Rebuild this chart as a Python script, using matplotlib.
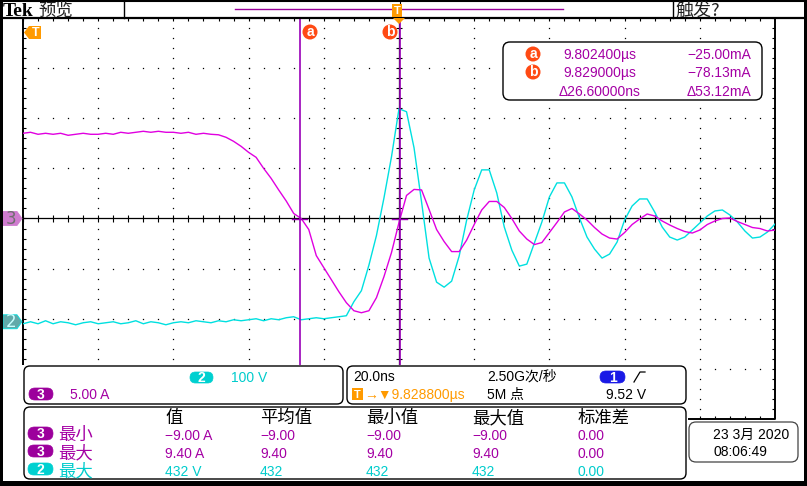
import numpy as np
import matplotlib
matplotlib.use('Agg')
import matplotlib.pyplot as plt
from matplotlib.patches import FancyBboxPatch, Rectangle, Polygon, Circle

TIME_PER_DIV_NS = 20.0
CH3_A_PER_DIV = 5.0
CH2_V_PER_DIV = 100.0
CH2_POSITION_DIV = -2.06
TRIGGER_POS_US = 9.8288

time_ns = np.arange(-100, 101, 2)          # sample grid, ns relative to trigger

ch3_current_A = [
    8.5, 8.6, 8.4, 8.5, 8.4, 8.5, 8.3, 8.4, 8.5, 8.4,
    8.4, 8.5, 8.4, 8.6, 8.5, 8.6, 8.7, 8.6, 8.7, 8.6,
    8.6, 8.5, 8.6, 8.4, 8.5, 8.4,
    8.35, 8.1, 7.7, 7.2, 6.6, 6.1, 5.0, 4.0, 2.85, 1.75,
    0.5, 0.0, -1.1, -3.7, -4.9, -6.1, -7.3, -8.4, -9.2, -9.4,
    -9.2, -7.9, -5.8, -3.4, -0.4,
    2.3, 2.9, 2.85, 0.9, -1.1, -2.3, -3.3, -3.3, -2.15, -0.6,
    0.85, 1.7, 1.7, 1.1, 0.0, -1.25, -2.05, -2.6, -2.4, -1.4,
    -0.4, 0.65, 1.0, 0.45, -0.15, -0.9, -1.55, -1.95, -2.05, -1.4,
    -0.6, -0.05, 0.45, 0.25, -0.25, -0.65, -1.0, -1.3, -1.45, -1.15,
    -0.6, -0.25, 0.0, 0.05, -0.3, -0.6, -0.9, -1.0, -1.25, -1.15,
]

ch2_voltage_V = [
    -4, 0, -4, 2, -4, 0, -2, -6, -2, 0,
    -4, -2, 0, -4, -2, 2, -4, 0, -2, -6,
    -2, 0, -2, 2, 0, -2, 2, 0, 4, 2,
    4, 6, 2, 6, 4, 8, 10, 4, 6, 8,
    6, 8, 10,
    12, 40, 62, 113, 172, 247, 329, 425,
    419, 347, 239, 127, 79, 69, 81, 131, 203, 263,
    303, 303, 257, 189, 143, 111, 115, 157, 199, 249,
    277, 277, 249, 207, 169, 145, 127, 135, 159, 203,
    231, 245, 245, 219, 189, 169, 163, 169, 183, 197,
    211, 221, 223, 213, 199, 181, 167, 169, 179, 195,
]

cursor_names = ['a', 'b']
cursor_time_ns = [-26.4, 0.2]
cursor_level_A = [-0.025, -0.078]
readout_time = ['9.802400µs', '9.829000µs', 'Δ26.60000ns']
readout_level = ['−25.00mA', '−78.13mA', 'Δ53.12mA']

meas_headers = ['值', '平均值', '最小值', '最大值', '标准差']
meas_channels = ['3', '3', '2']
meas_names = ['最小', '最大', '最大']
meas_values = [
    ['−9.00 A', '−9.00', '−9.00', '−9.00', '0.00'],
    ['9.40 A', '9.40', '9.40', '9.40', '0.00'],
    ['432 V', '432', '432', '432', '0.00'],
]

# ---------------- styling ----------------
MAG = '#e000e0'
CYN = '#00e0e0'
MAG_TXT = '#a400a4'
CYN_TXT = '#00cccc'
MAG_PILL = '#9c009c'
CUR = '#9a00b8'
ORANGE = '#ff9a00'
REDOR = '#ff4a14'
LAT = ['Liberation Sans', 'Noto Sans CJK SC', 'DejaVu Sans']
CJK = ['Noto Sans CJK SC', 'DejaVu Sans']
plt.rcParams['font.family'] = LAT

W, H = 807, 486
fig = plt.figure(figsize=(W / 100, H / 100), dpi=100)
fig.patch.set_facecolor('white')

GL, GR, GT, GB = 23, 775, 18, 419


def fig_rect(x0, y0, x1, y1):
    return [x0 / W, (H - y1) / H, (x1 - x0) / W, (y1 - y0) / H]


# graticule (division units)
grat = fig.add_axes(fig_rect(GL, GT, GR, GB), zorder=1)
grat.set_xlim(0, 10)
grat.set_ylim(0, 8)
grat.axis('off')
minor_x = np.arange(0, 51) / 5
minor_y = np.arange(0, 41) / 5
for i in [1, 2, 3, 4, 6, 7, 8, 9]:
    grat.plot(np.full(len(minor_y), i), minor_y, ls='none', marker='s', ms=0.9,
              mew=0, color='black')
for j in [1, 2, 3, 5, 6, 7]:
    grat.plot(minor_x, np.full(len(minor_x), j), ls='none', marker='s', ms=0.9,
              mew=0, color='black')
grat.axhline(4, color='black', lw=0.9)
grat.axvline(5, color='black', lw=0.9)
grat.vlines(minor_x, 4 - 0.06, 4 + 0.06, color='black', lw=0.8)
grat.hlines(minor_y, 5 - 0.04, 5 + 0.04, color='black', lw=0.8)
# border ticks
grat.hlines(minor_y, 0, 0.035, color='black', lw=0.8)
grat.hlines(minor_y, 10 - 0.035, 10, color='black', lw=0.8)
grat.vlines(minor_x, 8 - 0.05, 8, color='black', lw=0.8)
grat.vlines(minor_x, 0, 0.05, color='black', lw=0.8)
grat.plot([0, 10, 10, 0, 0], [0, 0, 8, 8, 0], color='black', lw=1.4, clip_on=False)

# channel 2 (voltage) axes
axV = fig.add_axes(fig_rect(GL, GT, GR, GB), zorder=2)
axV.set_xlim(-5 * TIME_PER_DIV_NS, 5 * TIME_PER_DIV_NS)
axV.set_ylim((-4 - CH2_POSITION_DIV) * CH2_V_PER_DIV, (4 - CH2_POSITION_DIV) * CH2_V_PER_DIV)
axV.axis('off')
axV.plot(time_ns, ch2_voltage_V, color=CYN, lw=1.0)

# channel 3 (current) axes
axA = fig.add_axes(fig_rect(GL, GT, GR, GB), zorder=3)
axA.set_xlim(-5 * TIME_PER_DIV_NS, 5 * TIME_PER_DIV_NS)
axA.set_ylim(-4 * CH3_A_PER_DIV, 4 * CH3_A_PER_DIV)
axA.axis('off')
axA.plot(time_ns, ch3_current_A, color=MAG, lw=1.0)
for t, lv in zip(cursor_time_ns, cursor_level_A):
    axA.axvline(t, color=CUR, lw=1.2)
    axA.plot([t - 2.0, t + 2.0], [lv, lv], color=CUR, lw=1.0)

# ---------------- UI overlay (pixel coordinates) ----------------
ui = fig.add_axes([0, 0, 1, 1], zorder=10)
ui.set_xlim(0, W)
ui.set_ylim(H, 0)
ui.axis('off')


def txt(x, y, s, color='black', size=10, ha='left', family=LAT, weight='normal', z=5):
    ui.text(x, y, s, color=color, fontsize=size, ha=ha, va='baseline',
            family=family, fontweight=weight, zorder=z)


def rbox(x0, y0, x1, y1, r=6, ec='black', lw=1.0, fc='white', z=2):
    ui.add_patch(FancyBboxPatch((x0, y0), x1 - x0, y1 - y0,
                                boxstyle=f'round,pad=0,rounding_size={r}',
                                ec=ec, fc=fc, lw=lw, zorder=z))


def pill(x0, y0, x1, y1, label, fc):
    rbox(x0, y0, x1, y1, r=(y1 - y0) / 2, ec=fc, fc=fc, lw=0.5, z=3)
    ui.text((x0 + x1) / 2, (y0 + y1) / 2 + 0.5, label, color='white', fontsize=10,
            fontweight='bold', ha='center', va='center', family=LAT, zorder=4)


def clabel(xc, yc, s):
    ui.add_patch(Circle((xc, yc), 7.5, fc=REDOR, ec='none', zorder=5))
    ui.text(xc, yc + 0.5, s, color='white', fontsize=10, fontweight='bold',
            ha='center', va='center', family=LAT, zorder=6)


# top bar
ui.add_patch(Rectangle((0, 0), W, 17.5, fc='white', ec='none', zorder=1))
ui.plot([0, W], [0.8, 0.8], color='black', lw=1.5, zorder=3)
ui.plot([0, 804], [17.6, 17.6], color='black', lw=1.6, zorder=3)
ui.plot([124, 124], [0, 18], color='black', lw=1.0, zorder=3)
ui.plot([673, 673], [0, 18], color='black', lw=1.0, zorder=3)
txt(3, 16.5, 'Tek', size=14, family=['Liberation Serif', 'DejaVu Serif'], weight='bold')
txt(38, 15.5, '预览', size=12.5, family=CJK, color='#222222')
txt(675, 15.5, '触发?', size=13, family=CJK, color='#222222')
ui.plot([235, 563], [9, 9], color='#990099', lw=1.0, zorder=3)
ui.plot([400, 400], [1, 17], color='black', lw=0.8, zorder=3)
ui.add_patch(Rectangle((392, 4), 10, 13, fc=ORANGE, ec='none', zorder=4))
ui.text(397, 11, 'T', color='white', fontsize=8, fontweight='bold', ha='center',
        va='center', zorder=5)
ui.add_patch(Polygon([(393, 18), (405, 18), (399, 24)], closed=True, fc=ORANGE,
                     ec='none', zorder=4))

# left trigger marker
ui.add_patch(Polygon([(24, 32.5), (29, 26), (41, 26), (41, 39), (29, 39)], closed=True,
                     fc=ORANGE, ec='none', zorder=4))
ui.text(35.5, 33, 'T', color='white', fontsize=9, fontweight='bold', ha='center',
        va='center', zorder=5)

# channel ground markers at the library-computed zero levels
inv = ui.transData.inverted()
y3 = inv.transform(axA.transData.transform((0, 0)))[1]
y2 = inv.transform(axV.transData.transform((0, 0)))[1]
for yc, fc, ec, tc, lab in [(y3, '#cf7ccf', '#cf7ccf', '#6e6e6e', '3'),
                            (y2, '#62a9a9', CYN, '#c8ffff', '2')]:
    ui.add_patch(Polygon([(3, yc - 7), (17, yc - 7), (22, yc), (17, yc + 7), (3, yc + 7)],
                         closed=True, fc=fc, ec=ec, lw=0.6, zorder=4))
    ui.text(11, yc + 0.5, lab, color=tc, fontsize=12, ha='center', va='center',
            family=['DejaVu Sans'], zorder=5)

# cursor labels on the graticule
clabel(310, 32, cursor_names[0])
clabel(390, 32, cursor_names[1])

# cursor readout box
rbox(503, 42, 762, 100, r=7, lw=1.0)
clabel(533, 54, cursor_names[0])
clabel(533, 72, cursor_names[1])
for k, yb in enumerate([59, 77, 96]):
    txt(600, yb, readout_time[k], color=MAG_TXT, ha='center')
    txt(751, yb, readout_level[k], color=MAG_TXT, ha='right')

# bottom area cover
ui.add_patch(Rectangle((22, 365), 666, 116, fc='white', ec='none', zorder=1))

# panel 1: vertical scales
rbox(24, 366, 343, 404, r=6)
pill(190, 372, 213, 383, '2', '#00d0d0')
txt(231, 382, '100 V', color=CYN_TXT)
pill(29, 388, 53, 400, '3', MAG_PILL)
txt(70, 399, '5.00 A', color=MAG_TXT)

# panel 2: horizontal / trigger
rbox(347, 366, 686, 404, r=6)
txt(353, 381, '20.0ns')
ui.add_patch(Rectangle((352, 388), 11, 12, fc=ORANGE, ec='none', zorder=3))
ui.text(357.5, 394.5, 'T', color='white', fontsize=8, fontweight='bold', ha='center',
        va='center', zorder=4)
txt(364, 399, '→▼9.828800µs', color=ORANGE)
txt(487, 381, '2.50G次/秒')
txt(487, 399, '5M 点')
pill(600, 371, 625, 383, '1', '#1a1ae6')
ui.plot([634, 640, 645], [382, 372, 372], color='black', lw=0.9, zorder=4)
txt(646, 399, '9.52 V', ha='right')

# measurement table
rbox(24, 407, 686, 479, r=6)
col_x = [165, 260, 366, 472, 578]
for cx, hd in zip(col_x, meas_headers):
    txt(cx, 423, hd, size=12.5, family=CJK)
row_base = [440, 458, 476]
row_pill = [(427, 440), (445, 457), (463, 475)]
for r in range(3):
    is_mag = meas_channels[r] == '3'
    col = MAG_TXT if is_mag else CYN_TXT
    pill(28, row_pill[r][0], 53, row_pill[r][1], meas_channels[r],
         MAG_PILL if is_mag else '#00d0d0')
    txt(58, row_base[r], meas_names[r], color=col, size=12.5, family=CJK)
    for cx, v in zip(col_x, meas_values[r]):
        txt(cx, row_base[r], v, color=col)

# date box
rbox(689, 422, 798, 462, r=7, ec='#444444', lw=0.9)
txt(713, 439, '23 3月 2020')
txt(713, 456, '08:06:49')

# outer frame
ui.add_patch(Rectangle((0, 0), 3, H, fc='black', ec='none', zorder=8))
ui.add_patch(Rectangle((0, 481), W, 5, fc='black', ec='none', zorder=8))
ui.add_patch(Rectangle((804, 0), 3, H, fc='black', ec='none', zorder=8))

fig.savefig('out.png', dpi=100, facecolor='white')
